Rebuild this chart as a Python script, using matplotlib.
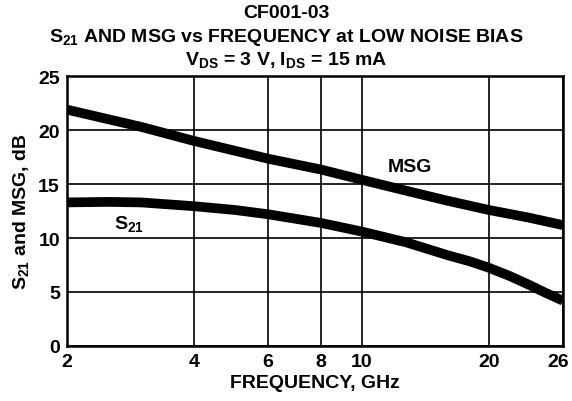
import numpy as np
import matplotlib
matplotlib.use("Agg")
import matplotlib.pyplot as plt
import matplotlib.transforms as mtransforms

plt.rcParams['font.family'] = ['Liberation Sans', 'DejaVu Sans']
plt.rcParams['font.weight'] = 'bold'
plt.rcParams['axes.labelweight'] = 'bold'
plt.rcParams['mathtext.fontset'] = 'custom'
plt.rcParams['mathtext.rm'] = 'Liberation Sans:bold'
plt.rcParams['mathtext.bf'] = 'Liberation Sans:bold'
plt.rcParams['mathtext.it'] = 'Liberation Sans:bold'
plt.rcParams['mathtext.default'] = 'bf'

# datos
freq_msg = [2, 3, 4, 6, 8, 10, 13, 16, 20, 23, 26]
msg = [21.9, 20.3, 19.0, 17.35, 16.35, 15.4, 14.3, 13.45, 12.6, 11.9, 11.2]

freq_s21 = [2, 2.5, 3, 4, 5, 6, 8, 10, 12.75, 16, 18, 20, 21.5, 23, 24.5, 26]
s21 = [13.3, 13.35, 13.3, 12.95, 12.6, 12.2, 11.4, 10.6, 9.6, 8.4, 7.85, 7.25, 6.5, 5.7, 4.9, 4.2]

xticks = [2, 4, 6, 8, 10, 20, 26]
yticks = [0, 5, 10, 15, 20, 25]

# la escala es logaritmica hasta 20 GHz y despues se estira hasta 26
k = 74.0 / 48.0
def fwd(x):
    x = np.asarray(x, dtype=float)
    lx = np.log(np.clip(x, 1e-3, None))
    return np.where(x <= 20, lx, np.log(20) + (lx - np.log(20)) * k)
def inv(y):
    y = np.asarray(y, dtype=float)
    return np.where(y <= np.log(20), np.exp(y), np.exp(np.log(20) + (y - np.log(20)) / k))

fig = plt.figure(figsize=(5.72, 4.02), dpi=100)
ax = fig.add_axes([0.117, 0.137, 0.867, 0.671])
ax.set_xscale('function', functions=(fwd, inv))

ax.plot(freq_msg, msg, color='black', lw=7, solid_capstyle='butt', solid_joinstyle='round', zorder=3)
ax.plot(freq_s21, s21, color='black', lw=7, solid_capstyle='butt', solid_joinstyle='round', zorder=3)

ax.set_xlim(2, 26)
ax.set_ylim(0, 25)
ax.set_xticks(xticks)
ax.set_xticklabels([str(t) for t in xticks])
ax.set_yticks(yticks)
ax.minorticks_off()
ax.grid(True, color='black', lw=1.2)
ax.tick_params(length=0, labelsize=14, pad=5)
for s in ax.spines.values():
    s.set_linewidth(1.8)

# el 26 queda pegado al borde, se corre un poco a la izquierda
ultimo = ax.get_xticklabels()[-1]
ultimo.set_transform(ultimo.get_transform() + mtransforms.ScaledTranslation(-5/100, 0, fig.dpi_scale_trans))

ax.text(13, 16.6, 'MSG', fontsize=14, ha='center', va='center')
ax.text(2.8, 11.4, 'S$_{21}$', fontsize=14, ha='center', va='center')

ax.set_xlabel('FREQUENCY, GHz', fontsize=14, labelpad=3)
ax.set_ylabel('S$_{21}$ and MSG, dB', fontsize=14, labelpad=5)

fig.text(0.5, 0.967, 'CF001-03', fontsize=14, ha='center', va='center')
fig.text(0.5, 0.907, 'S$_{21}$ AND MSG vs FREQUENCY at LOW NOISE BIAS', fontsize=14, ha='center', va='center')
fig.text(0.5, 0.85, 'V$_{DS}$ = 3 V, I$_{DS}$ = 15 mA', fontsize=14, ha='center', va='center')

fig.savefig('out.png', dpi=100)
